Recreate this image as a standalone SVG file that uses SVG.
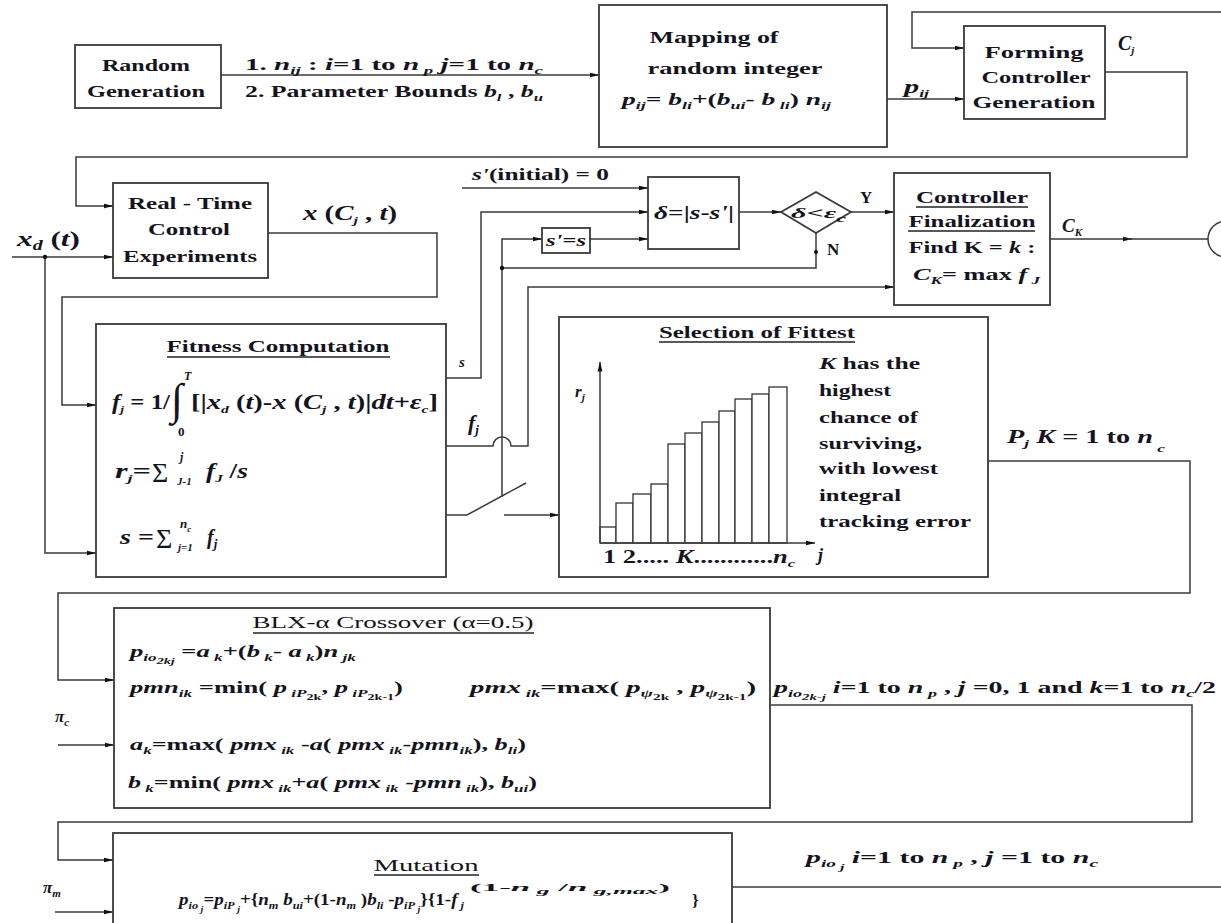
<svg xmlns="http://www.w3.org/2000/svg" width="1221" height="923" viewBox="0 0 1221 923">
<style>
.b{fill:#fff;stroke:#3a3a3a;stroke-width:1.8}
.c{fill:none;stroke:#3a3a3a;stroke-width:1.5}
.t{font-weight:bold;fill:#141420}
.n{font-weight:normal}
.i{font-style:italic}
.sb{font-size:11px;baseline-shift:-4px}
.ss{font-size:9px;baseline-shift:-7px}
.u{stroke:#222;stroke-width:1.3}
.bar{fill:#fff;stroke:#333;stroke-width:1.3}
</style>
<defs>
<marker id="ah" markerWidth="10" markerHeight="6" refX="9.5" refY="3" orient="auto" markerUnits="userSpaceOnUse"><path d="M0,0.6 L10,3 L0,5.4 z" fill="#111"/></marker>
</defs>
<rect width="1221" height="923" fill="#fff"/>
<g font-size="17" font-family="Liberation Serif, Times New Roman, serif">

<g id="connectors">
<path class="c" d="M221,75 H599" marker-end="url(#ah)"/>
<path class="c" d="M887,99 H964" marker-end="url(#ah)"/>
<path class="c" d="M1221,12 H912 V48 H964" marker-end="url(#ah)"/>
<path class="c" d="M1105,72 H1187 V157 H76 V206 H113" marker-end="url(#ah)"/>
<path class="c" d="M12,257 H113" marker-end="url(#ah)"/>
<path class="c" d="M45,257 V553 H96" marker-end="url(#ah)"/>
<circle cx="45" cy="257" r="2.2" fill="#111"/>
<path class="c" d="M268,233 H437 V297 H62 V405 H96" marker-end="url(#ah)"/>
<path class="c" d="M446,378 H481 V212 H648" marker-end="url(#ah)"/>
<path class="c" d="M446,446 H493 A9,9 0 0 1 511,446 H528 V287 H894" marker-end="url(#ah)"/>
<path class="c" d="M446,515 H467 L526,483"/>
<path class="c" d="M504,515 H559" marker-end="url(#ah)"/>
<path class="c" d="M502,497 V239 H542" marker-end="url(#ah)"/>
<path class="c" d="M816,233 V268 H502"/>
<circle cx="502" cy="268" r="2.2" fill="#111"/>
<circle cx="816" cy="252" r="2" fill="#111"/>
<path class="c" d="M590,239 H648" marker-end="url(#ah)"/>
<path class="c" d="M462,188 H648" marker-end="url(#ah)"/>
<path class="c" d="M739,212 H781" marker-end="url(#ah)"/>
<path class="c" d="M851,212 H894" marker-end="url(#ah)"/>
<path class="c" d="M1050,239 H1132" marker-end="url(#ah)"/>
<path class="c" d="M1128,239 H1208"/>
<circle class="c" cx="1226" cy="239" r="18"/>
<path class="c" d="M988,461 H1190 V593 H58 V680 H114" marker-end="url(#ah)"/>
<path class="c" d="M58,745 H114" marker-end="url(#ah)"/>
<path class="c" d="M770,705 H1192 V822 H58 V860 H113" marker-end="url(#ah)"/>
<path class="c" d="M55,912 H113" marker-end="url(#ah)"/>
<path class="c" d="M732,887 H1221"/>
</g>

<g id="edge-labels">
<text class="t" x="245" y="70" textLength="298" lengthAdjust="spacingAndGlyphs">1. <tspan class="i">n</tspan><tspan class="sb i">ij</tspan> : <tspan class="i">i</tspan>=1  to <tspan class="i">n</tspan><tspan class="sb i"> p</tspan>   <tspan class="i">j</tspan>=1  to <tspan class="i">n</tspan><tspan class="sb i">c</tspan></text>
<text class="t" x="245" y="97" textLength="298" lengthAdjust="spacingAndGlyphs">2. Parameter Bounds <tspan class="i">b</tspan><tspan class="sb i">l</tspan> , <tspan class="i">b</tspan><tspan class="sb i">u</tspan></text>
<text class="t" x="904" y="93" font-size="19" textLength="25" lengthAdjust="spacingAndGlyphs"><tspan class="i">p</tspan><tspan class="sb i">ij</tspan></text>
<text class="t" x="1118" y="50" font-size="20"><tspan class="i">C</tspan><tspan class="sb i">j</tspan></text>
<text class="t" x="17" y="246" font-size="22" textLength="63" lengthAdjust="spacingAndGlyphs"><tspan class="i">x</tspan><tspan class="sb i" style="font-size:14px">d</tspan> (<tspan class="i">t</tspan>)</text>
<text class="t" x="303" y="220" font-size="20" textLength="94" lengthAdjust="spacingAndGlyphs"><tspan class="i">x</tspan> (<tspan class="i">C</tspan><tspan class="sb i">j</tspan> , <tspan class="i">t</tspan>)</text>
<text class="t" x="472" y="180" textLength="137" lengthAdjust="spacingAndGlyphs"><tspan class="i">s'</tspan>(initial) = 0</text>
<text class="t" x="860" y="203">Y</text>
<text class="t" x="827" y="255">N</text>
<text class="t" x="1062" y="232" font-size="19"><tspan class="i">C</tspan><tspan class="sb i">K</tspan></text>
<text class="t i" x="459" y="367" font-size="15">s</text>
<text class="t i" x="468" y="430" font-size="22">f<tspan class="sb" style="font-size:13px">j</tspan></text>
<text class="t" x="1007" y="443" font-size="18" textLength="158" lengthAdjust="spacingAndGlyphs"><tspan class="i">P</tspan><tspan class="sb i">j</tspan>   <tspan class="i">K</tspan> = 1 to <tspan class="i">n</tspan><tspan class="sb i" style="baseline-shift:-9px">  c</tspan></text>
<text class="t i" x="55" y="722" font-size="17">π<tspan class="sb">c</tspan></text>
<text class="t" x="774" y="693" textLength="442" lengthAdjust="spacingAndGlyphs"><tspan class="i">p</tspan><tspan class="sb i">io</tspan><tspan class="ss i">2k-j</tspan>  <tspan class="i">i</tspan>=1 to <tspan class="i">n</tspan><tspan class="sb i"> p</tspan> , <tspan class="i">j</tspan> =0, 1 and <tspan class="i">k</tspan>=1 to <tspan class="i">n</tspan><tspan class="sb i">c</tspan>/2</text>
<text class="t i" x="43" y="893" font-size="17">π<tspan class="sb">m</tspan></text>
<text class="t" x="806" y="863" textLength="292" lengthAdjust="spacingAndGlyphs"><tspan class="i">p</tspan><tspan class="sb i">io</tspan><tspan class="ss i"> j</tspan>   <tspan class="i">i</tspan>=1 to <tspan class="i">n</tspan><tspan class="sb i"> p</tspan> , <tspan class="i">j</tspan> =1 to <tspan class="i">n</tspan><tspan class="sb i">c</tspan></text>
</g>

<g id="random-generation">
<rect class="b" x="75" y="45" width="146" height="63"/>
<text class="t" x="146" y="71" text-anchor="middle" textLength="88" lengthAdjust="spacingAndGlyphs">Random</text>
<text class="t" x="146" y="97" text-anchor="middle" textLength="118" lengthAdjust="spacingAndGlyphs">Generation</text>
</g>

<g id="mapping">
<rect class="b" x="599" y="5" width="288" height="142"/>
<text class="t" x="714" y="43" text-anchor="middle" textLength="129" lengthAdjust="spacingAndGlyphs">Mapping of</text>
<text class="t" x="735" y="74" text-anchor="middle" textLength="175" lengthAdjust="spacingAndGlyphs">random integer</text>
<text class="t" x="622" y="105" textLength="209" lengthAdjust="spacingAndGlyphs"><tspan class="i">p</tspan><tspan class="sb i">ij</tspan>= <tspan class="i">b</tspan><tspan class="sb i">li</tspan>+(<tspan class="i">b</tspan><tspan class="sb i">ui</tspan>- <tspan class="i">b</tspan><tspan class="sb i"> li</tspan>) <tspan class="i">n</tspan><tspan class="sb i">ij</tspan></text>
</g>

<g id="forming-controller">
<rect class="b" x="964" y="26" width="141" height="93"/>
<text class="t" x="1034" y="58" text-anchor="middle" textLength="99" lengthAdjust="spacingAndGlyphs">Forming</text>
<text class="t" x="1036" y="83" text-anchor="middle" textLength="109" lengthAdjust="spacingAndGlyphs">Controller</text>
<text class="t" x="1034" y="108" text-anchor="middle" textLength="123" lengthAdjust="spacingAndGlyphs">Generation</text>
</g>

<g id="real-time">
<rect class="b" x="113" y="183" width="155" height="95"/>
<text class="t" x="190" y="209" text-anchor="middle" textLength="124" lengthAdjust="spacingAndGlyphs">Real - Time</text>
<text class="t" x="189" y="235" text-anchor="middle" textLength="82" lengthAdjust="spacingAndGlyphs">Control</text>
<text class="t" x="190" y="262" text-anchor="middle" textLength="134" lengthAdjust="spacingAndGlyphs">Experiments</text>
</g>

<g id="delta-box">
<rect class="b" x="648" y="177" width="91" height="72"/>
<text class="t" x="654" y="219" font-size="18" textLength="80" lengthAdjust="spacingAndGlyphs"><tspan class="i">δ</tspan>=|<tspan class="i">s</tspan>-<tspan class="i">s'</tspan>|</text>
</g>

<g id="s-update">
<rect class="b" x="542" y="228" width="48" height="25"/>
<text class="t" x="546" y="246" textLength="40" lengthAdjust="spacingAndGlyphs"><tspan class="i">s'</tspan>=<tspan class="i">s</tspan></text>
</g>

<g id="decision">
<polygon class="b" points="781,212 816,192 851,212 816,233"/>
<text class="t" x="791" y="218" font-size="15" textLength="55" lengthAdjust="spacingAndGlyphs"><tspan class="i">δ</tspan>&lt;<tspan class="i">ε</tspan><tspan class="sb i">c</tspan></text>
</g>

<g id="controller-finalization">
<rect class="b" x="894" y="173" width="156" height="132"/>
<text class="t" x="972" y="203" text-anchor="middle" textLength="112" lengthAdjust="spacingAndGlyphs">Controller</text>
<line class="u" x1="916" y1="207" x2="1028" y2="207"/>
<text class="t" x="972" y="227" text-anchor="middle" textLength="127" lengthAdjust="spacingAndGlyphs">Finalization</text>
<line class="u" x1="908" y1="231" x2="1035" y2="231"/>
<text class="t" x="972" y="253" text-anchor="middle" textLength="127" lengthAdjust="spacingAndGlyphs">Find K = <tspan class="i">k</tspan> :</text>
<text class="t" x="913" y="280" textLength="127" lengthAdjust="spacingAndGlyphs"><tspan class="i">C</tspan><tspan class="sb i">K</tspan>= max <tspan class="i">f</tspan><tspan class="sb i"> J</tspan></text>
</g>

<g id="fitness">
<rect class="b" x="96" y="324" width="350" height="253"/>
<text class="t" x="278" y="352" text-anchor="middle" textLength="223" lengthAdjust="spacingAndGlyphs">Fitness Computation</text>
<line class="u" x1="167" y1="357" x2="390" y2="357"/>
<text class="t" x="112" y="409" font-size="20" textLength="58" lengthAdjust="spacingAndGlyphs"><tspan class="i">f</tspan><tspan class="sb i">j</tspan> = 1/</text>
<text class="t n" x="171" y="414" font-size="44">∫</text>
<text class="t i" x="184" y="380" font-size="12">T</text>
<text class="t" x="178" y="436" font-size="13">0</text>
<text class="t" x="191" y="409" font-size="20" textLength="247" lengthAdjust="spacingAndGlyphs">[|<tspan class="i">x</tspan><tspan class="sb i">d</tspan> (<tspan class="i">t</tspan>)-<tspan class="i">x</tspan> (<tspan class="i">C</tspan><tspan class="sb i">j</tspan> , <tspan class="i">t</tspan>)|<tspan class="i">dt</tspan>+<tspan class="i">ε</tspan><tspan class="sb i">c</tspan>]</text>
<text class="t" x="115" y="478" font-size="20" textLength="36" lengthAdjust="spacingAndGlyphs"><tspan class="i">r</tspan><tspan class="sb i">j</tspan>=</text>
<text class="t n" x="152" y="482" font-size="28">Σ</text>
<text class="t i" x="180" y="461" font-size="12">j</text>
<text class="t i" x="177" y="485" font-size="11">J-1</text>
<text class="t" x="206" y="478" font-size="20" textLength="42" lengthAdjust="spacingAndGlyphs"><tspan class="i">f</tspan><tspan class="sb i">J</tspan> /<tspan class="i">s</tspan></text>
<text class="t" x="120" y="544" font-size="20" textLength="34" lengthAdjust="spacingAndGlyphs"><tspan class="i">s</tspan> =</text>
<text class="t n" x="156" y="548" font-size="28">Σ</text>
<text class="t i" x="180" y="528" font-size="13">n<tspan class="sb" style="font-size:9px">c</tspan></text>
<text class="t i" x="178" y="551" font-size="11">j=1</text>
<text class="t i" x="207" y="544" font-size="20">f<tspan class="sb" style="font-size:13px">j</tspan></text>
</g>

<g id="selection">
<rect class="b" x="559" y="317" width="429" height="260"/>
<text class="t" x="757" y="338" text-anchor="middle" textLength="196" lengthAdjust="spacingAndGlyphs">Selection of Fittest</text>
<line class="u" x1="659" y1="342" x2="855" y2="342"/>
<rect class="bar" x="600" y="527" width="16" height="16"/>
<rect class="bar" x="616" y="503" width="17" height="40"/>
<rect class="bar" x="633" y="494" width="18" height="49"/>
<rect class="bar" x="651" y="484" width="17" height="59"/>
<rect class="bar" x="668" y="444" width="17" height="99"/>
<rect class="bar" x="685" y="433" width="17" height="110"/>
<rect class="bar" x="702" y="422" width="17" height="121"/>
<rect class="bar" x="719" y="411" width="16" height="132"/>
<rect class="bar" x="735" y="399" width="17" height="144"/>
<rect class="bar" x="752" y="394" width="17" height="149"/>
<rect class="bar" x="769" y="387" width="18" height="156"/>
<path class="c" d="M600,543 V362" marker-end="url(#ah)"/>
<path class="c" d="M600,543 H815" marker-end="url(#ah)"/>
<text class="t i" x="575" y="397" font-size="17">r<tspan class="sb">j</tspan></text>
<text class="t" x="603" y="563" font-size="18" textLength="192" lengthAdjust="spacingAndGlyphs">1 2..... <tspan class="i">K</tspan>............<tspan class="i">n</tspan><tspan class="sb i">c</tspan></text>
<text class="t i" x="818" y="561" font-size="18">j</text>
<text class="t" x="819" y="369" textLength="101" lengthAdjust="spacingAndGlyphs"><tspan class="i">K</tspan> has the</text>
<text class="t" x="819" y="396" textLength="72" lengthAdjust="spacingAndGlyphs">highest</text>
<text class="t" x="819" y="423" textLength="99" lengthAdjust="spacingAndGlyphs">chance of</text>
<text class="t" x="819" y="449" textLength="103" lengthAdjust="spacingAndGlyphs">surviving,</text>
<text class="t" x="819" y="474" textLength="119" lengthAdjust="spacingAndGlyphs">with lowest</text>
<text class="t" x="819" y="501" textLength="82" lengthAdjust="spacingAndGlyphs">integral</text>
<text class="t" x="819" y="527" textLength="152" lengthAdjust="spacingAndGlyphs">tracking error</text>
</g>

<g id="crossover">
<rect class="b" x="114" y="608" width="656" height="200"/>
<text class="t n" x="393" y="628" text-anchor="middle" textLength="281" lengthAdjust="spacingAndGlyphs">BLX-α Crossover (α=0.5)</text>
<line class="u" x1="253" y1="633" x2="534" y2="633"/>
<text class="t" x="130" y="657" textLength="226" lengthAdjust="spacingAndGlyphs"><tspan class="i">p</tspan><tspan class="sb i">io</tspan><tspan class="ss i">2kj</tspan> =<tspan class="i">a</tspan><tspan class="sb i"> k</tspan>+(<tspan class="i">b</tspan><tspan class="sb i"> k</tspan>- <tspan class="i">a</tspan><tspan class="sb i"> k</tspan>)<tspan class="i">n</tspan><tspan class="sb i"> jk</tspan></text>
<text class="t" x="130" y="693" textLength="273" lengthAdjust="spacingAndGlyphs"><tspan class="i">pmn</tspan><tspan class="sb i">ik</tspan> =min( <tspan class="i">p</tspan><tspan class="sb i"> iP</tspan><tspan class="ss">2k</tspan>, <tspan class="i">p</tspan><tspan class="sb i"> iP</tspan><tspan class="ss">2k-1</tspan>)</text>
<text class="t" x="470" y="693" textLength="286" lengthAdjust="spacingAndGlyphs"><tspan class="i">pmx</tspan><tspan class="sb i"> ik</tspan>=max( <tspan class="i">p</tspan><tspan class="sb i">ψ</tspan><tspan class="ss">2k</tspan>  , <tspan class="i">p</tspan><tspan class="sb i">ψ</tspan><tspan class="ss">2k-1</tspan>)</text>
<text class="t" x="130" y="750" textLength="396" lengthAdjust="spacingAndGlyphs"><tspan class="i">a</tspan><tspan class="sb i">k</tspan>=max( <tspan class="i">pmx</tspan><tspan class="sb i"> ik</tspan> -<tspan class="i">a</tspan>( <tspan class="i">pmx</tspan><tspan class="sb i"> ik</tspan>-<tspan class="i">pmn</tspan><tspan class="sb i">ik</tspan>), <tspan class="i">b</tspan><tspan class="sb i">li</tspan>)</text>
<text class="t" x="128" y="788" textLength="409" lengthAdjust="spacingAndGlyphs"><tspan class="i">b</tspan><tspan class="sb i"> k</tspan>=min( <tspan class="i">pmx</tspan><tspan class="sb i"> ik</tspan>+<tspan class="i">a</tspan>( <tspan class="i">pmx</tspan><tspan class="sb i"> ik</tspan> -<tspan class="i">pmn</tspan><tspan class="sb i"> ik</tspan>), <tspan class="i">b</tspan><tspan class="sb i">ui</tspan>)</text>
</g>

<g id="mutation">
<rect class="b" x="113" y="833" width="619" height="110"/>
<text class="t n" x="426" y="871" text-anchor="middle" textLength="105" lengthAdjust="spacingAndGlyphs">Mutation</text>
<line class="u" x1="374" y1="875" x2="479" y2="875"/>
<text class="t" x="179" y="905" textLength="285" lengthAdjust="spacingAndGlyphs"><tspan class="i">p</tspan><tspan class="sb i">io</tspan><tspan class="ss i"> j</tspan>=<tspan class="i">p</tspan><tspan class="sb i">iP</tspan><tspan class="ss i"> j</tspan>+{<tspan class="i">n</tspan><tspan class="sb i">m</tspan> <tspan class="i">b</tspan><tspan class="sb i">ui</tspan>+(1-<tspan class="i">n</tspan><tspan class="sb i">m</tspan> )<tspan class="i">b</tspan><tspan class="sb i">li</tspan> -<tspan class="i">p</tspan><tspan class="sb i">iP</tspan><tspan class="ss i"> j</tspan>}{1-<tspan class="i">f</tspan><tspan class="sb i"> j</tspan></text>
<text class="t" x="470" y="891" font-size="11" textLength="200" lengthAdjust="spacingAndGlyphs">(1-<tspan class="i">n</tspan><tspan class="sb i" style="font-size:8px;baseline-shift:-3px"> g</tspan> /<tspan class="i">n</tspan><tspan class="sb i" style="font-size:8px;baseline-shift:-3px"> g,max</tspan>)</text>
<text class="t" x="692" y="906">}</text>
</g>

</g>
</svg>
